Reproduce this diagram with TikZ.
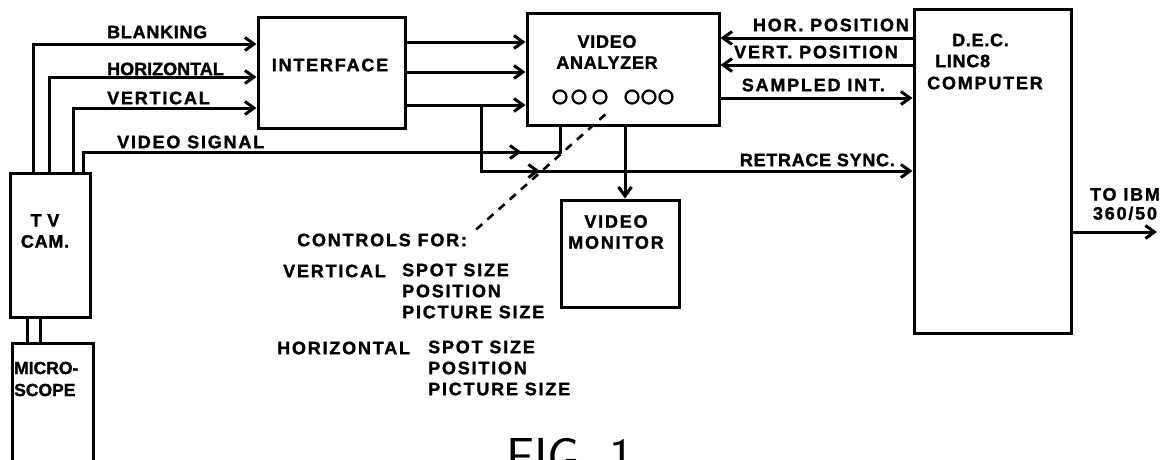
\documentclass[tikz,border=0pt]{standalone}
\usepackage{fontspec}
\setmainfont{Liberation Sans}[LetterSpace=4, BoldFeatures={FakeBold=1.5}]
\usetikzlibrary{arrows.meta,decorations.markings}

\tikzset{
  block/.style={draw, line width=3pt, inner sep=0pt},
  lbl/.style={font=\bfseries\fontsize{18}{21}\selectfont, inner sep=0pt, align=left},
  wide/.style={lbl, font=\bfseries\fontsize{18}{21}\selectfont\addfontfeature{LetterSpace=10}},
  sig/.style={line width=3pt, ->},
  wire/.style={line width=3pt},
  midarrow/.style={postaction={decorate}, decoration={markings, mark=at position #1 with {\arrow{>}}}},
  knob/.style={circle, draw, line width=2.2pt, minimum size=13pt, inner sep=0pt},
  ctrl/.style={line width=2.6pt, dash pattern=on 8pt off 7pt},
}

\begin{document}
\begin{tikzpicture}[x=1pt, y=-1pt, >={Straight Barb[length=9pt,width=13pt]}]
    \useasboundingbox (0,0) rectangle (1169,459);
    \clip (0,0) rectangle (1169,459);

    % Blocks
    \node[block, minimum width=80pt, minimum height=144pt] (tvcam) at (50,245) {};
    \node[block, minimum width=81pt, minimum height=137pt] (microscope) at (52.5,411.5) {};
    \node[block, minimum width=147pt, minimum height=111pt] (interface) at (331.5,72.5) {};
    \node[block, minimum width=192pt, minimum height=112pt] (analyzer) at (623,69) {};
    \node[block, minimum width=118pt, minimum height=107pt] (monitor) at (620,253.5) {};
    \node[block, minimum width=157pt, minimum height=324pt] (computer) at (992.5,171) {};

    % Block texts
    \node[lbl, align=center] (tvtext) at (45,231) {T V\\CAM.};
    \node[lbl, anchor=west, font=\bfseries\fontsize{17.5}{22}\selectfont\addfontfeature{LetterSpace=0}] (mictext) at (14,379) {MICRO-\\SCOPE};
    \node[wide] (inttext) at (330,65) {INTERFACE};
    \node[lbl, align=center] (antext) at (607,52) {VIDEO\\ANALYZER};
    \node[wide, align=center] (montext) at (616,232) {VIDEO\\MONITOR};
    \node[lbl, anchor=west] (dectext) at (952,40) {D.E.C.};
    \node[lbl, anchor=west] (linctext) at (935,61) {LINC8};
    \node[wide, anchor=west] (comptext) at (927,83) {COMPUTER};

    % Control knobs
    \foreach \x [count=\i] in {560,579,600,632,649,666}
      \node[knob] (knob\i) at (\x,97) {};

    % Camera outputs
    \draw[sig] (tvcam.north -| 33,0) |- (interface.west |- 0,44);
    \draw[sig] (tvcam.north -| 49,0) |- (interface.west |- 0,77);
    \draw[sig] (tvcam.north -| 73,0) |- (interface.west |- 0,108);
    \draw[wire, midarrow=458pt] (tvcam.north -| 83,0) |- (560,152) -- (analyzer.south -| 560,0);
    \node[lbl, anchor=west] (blank) at (107,32) {BLANKING};
    \node[lbl, anchor=west, font=\bfseries\fontsize{18}{21}\selectfont\addfontfeature{LetterSpace=0}] (horiz) at (107,69) {HORIZONTAL};
    \node[wide, anchor=west] (vert) at (107,98) {VERTICAL};
    \node[wide, anchor=west] (vsig) at (117,142) {VIDEO SIGNAL};

    % Camera to microscope
    \draw[wire] (tvcam.south -| 27,0) -- (microscope.north -| 27,0);
    \draw[wire] (tvcam.south -| 40,0) -- (microscope.north -| 40,0);

    % Interface to analyzer
    \foreach \y in {42,72,105}
      \draw[sig] (interface.east |- 0,\y) -- (analyzer.west |- 0,\y);
    \coordinate (tap) at (481,105);
    \draw[sig, midarrow=125pt] (tap) |- (computer.west |- 0,171);
    \node[lbl, anchor=east] (retrace) at (895,160) {RETRACE SYNC.};

    % Analyzer to monitor
    \draw[sig] (analyzer.south -| 625,0) -- (monitor.north -| 625,0);

    % Computer links
    \draw[sig] (computer.west |- 0,38) -- (analyzer.east |- 0,38);
    \draw[sig] (computer.west |- 0,65) -- (analyzer.east |- 0,65);
    \draw[sig] (analyzer.east |- 0,98) -- (computer.west |- 0,98);
    \node[wide, anchor=east] (horpos) at (909,25) {HOR. POSITION};
    \node[wide, anchor=east] (vertpos) at (898,52) {VERT. POSITION};
    \node[wide, anchor=east] (sampled) at (885,85) {SAMPLED INT.};

    \coordinate (ibm) at (1157,232);
    \draw[sig] (computer.east |- ibm) -- (ibm);
    \node[wide, align=center, font=\bfseries\fontsize{18}{19}\selectfont\addfontfeature{LetterSpace=10}] (ibmtext) at (1125,204) {TO IBM\\360/50};

    % Controls legend
    \node[wide, anchor=west] (controls) at (297,240) {CONTROLS FOR:};
    \node[wide, anchor=west] (vctl) at (283,271) {VERTICAL};
    \node[wide, anchor=west] (vlist) at (402,291) {SPOT SIZE\\POSITION\\PICTURE SIZE};
    \node[wide, anchor=west] (hctl) at (277,348) {HORIZONTAL};
    \node[wide, anchor=west] (hlist) at (428,368) {SPOT SIZE\\POSITION\\PICTURE SIZE};
    \draw[ctrl] ([yshift=-12pt]knob3.south east) -- ([shift={(5pt,7pt)}]controls.east);

    % Caption
    \node[font=\sffamily\fontsize{52}{52}\selectfont, anchor=north west, inner sep=0pt] (fig) at (506,438) {FIG. 1};
\end{tikzpicture}
\end{document}
